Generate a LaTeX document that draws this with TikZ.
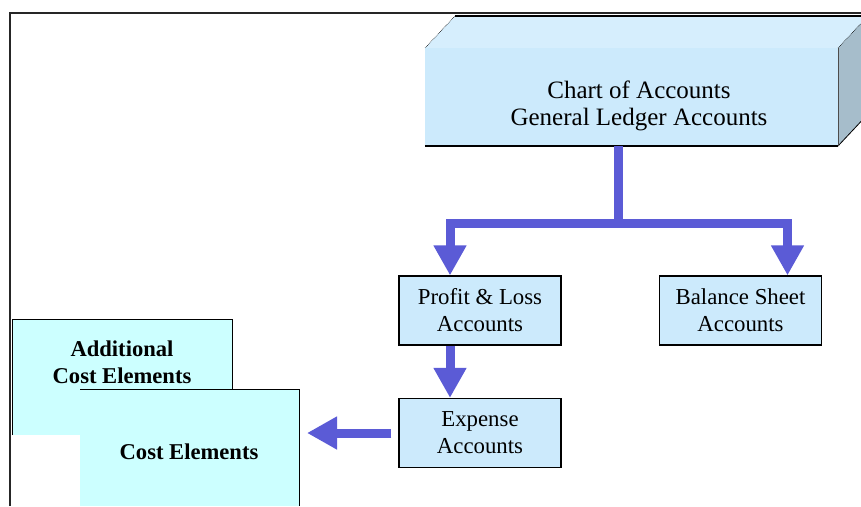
\documentclass[tikz,border=0pt]{standalone}
\usepackage{fontspec}
\setmainfont{Liberation Serif}
\usetikzlibrary{arrows.meta}
\definecolor{flowblue}{HTML}{5B5BD6}
\definecolor{paleblue}{HTML}{CCEAFC}
\definecolor{topblue}{HTML}{D6EEFD}
\definecolor{sideblue}{HTML}{A6BDCB}
\definecolor{palecyan}{HTML}{CCFFFF}
\tikzset{
  acctbox/.style={draw=black, line width=1.2pt, fill=paleblue, minimum width=162pt,
    minimum height=69pt, inner sep=0pt, align=center,
    font=\fontsize{22.8}{27}\selectfont},
  costtext/.style={align=center, inner sep=0pt, font=\fontsize{22.6}{27}\selectfont\bfseries},
  flow/.style={draw=flowblue, line width=9pt,
    -{Triangle[width=31pt,length=30pt]}},
}
\begin{document}
\begin{tikzpicture}[x=1pt,y=-1pt]
\useasboundingbox (0,0) rectangle (861,506);
\begin{scope}
\clip (0,0) rectangle (861,506);
% outer frame
\draw[line width=2.2pt, black!85] (10,506) -- (10,13) -- (870,13);

% cube: top and side faces
\fill[topblue] (425,48) -- (455,16) -- (870,16) -- (868,48) -- cycle;
\fill[sideblue] (838,48) -- (868,16) -- (868,114) -- (838,146) -- cycle;
\draw[line width=0.6pt, densely dotted] (425,48) -- (455,16);
\draw[line width=1.2pt] (455,16) -- (870,16);
\draw[line width=0.6pt, densely dotted] (838,48) -- (868,16);
\draw[line width=0.8pt] (838,146) -- (868,114);
% front face of the chart block
\node[fill=paleblue, minimum width=413pt, minimum height=98pt, inner sep=0pt]
  (chart) at (631.5,97) {};
\draw[line width=2pt] (chart.south west) -- (chart.south east);
\draw[line width=0.8pt, black!70] (chart.north east) -- (chart.south east);
\node[align=center, inner sep=0pt, font=\fontsize{25}{27}\selectfont]
  (charttext) at (639,106) {Chart of Accounts\\General Ledger Accounts};
\end{scope}

% account boxes
\node[acctbox] (pl) at (480,310.5) {Profit \& Loss\\Accounts};
\node[acctbox] (bs) at (740.5,310.5) {Balance Sheet\\Accounts};
\node[acctbox] (exp) at (480,433) {Expense\\Accounts};

% cost element sheets
\fill[palecyan] (12,319) rectangle (232,435);
\draw[line width=1pt] (12,435) -- (12,319) -- (232,319) -- (232,389);
\node[costtext] (addl) at (122,362) {Additional\\Cost Elements};
\fill[palecyan] (80,389) rectangle (299,506);
\draw[line width=1pt] (80,389) -- (299,389) -- (299,506);
\coordinate (costedge) at (307,433);
\node[costtext] (cost) at (189,452) {Cost Elements};

% connectors
\coordinate (split) at (618,223.5);
\draw[draw=flowblue, line width=9pt] (chart.south -| split) -- (split);
\draw[flow] ([xshift=4.5pt]split) -| ([xshift=-30pt]pl.north);
\draw[flow] ([xshift=-4.5pt]split) -| ([xshift=47pt]bs.north);
\draw[flow] ([xshift=-30pt]pl.south) -- ([xshift=-30pt]exp.north);
\draw[flow] ([xshift=-7pt]exp.west) -- (costedge);
\end{tikzpicture}
\end{document}
